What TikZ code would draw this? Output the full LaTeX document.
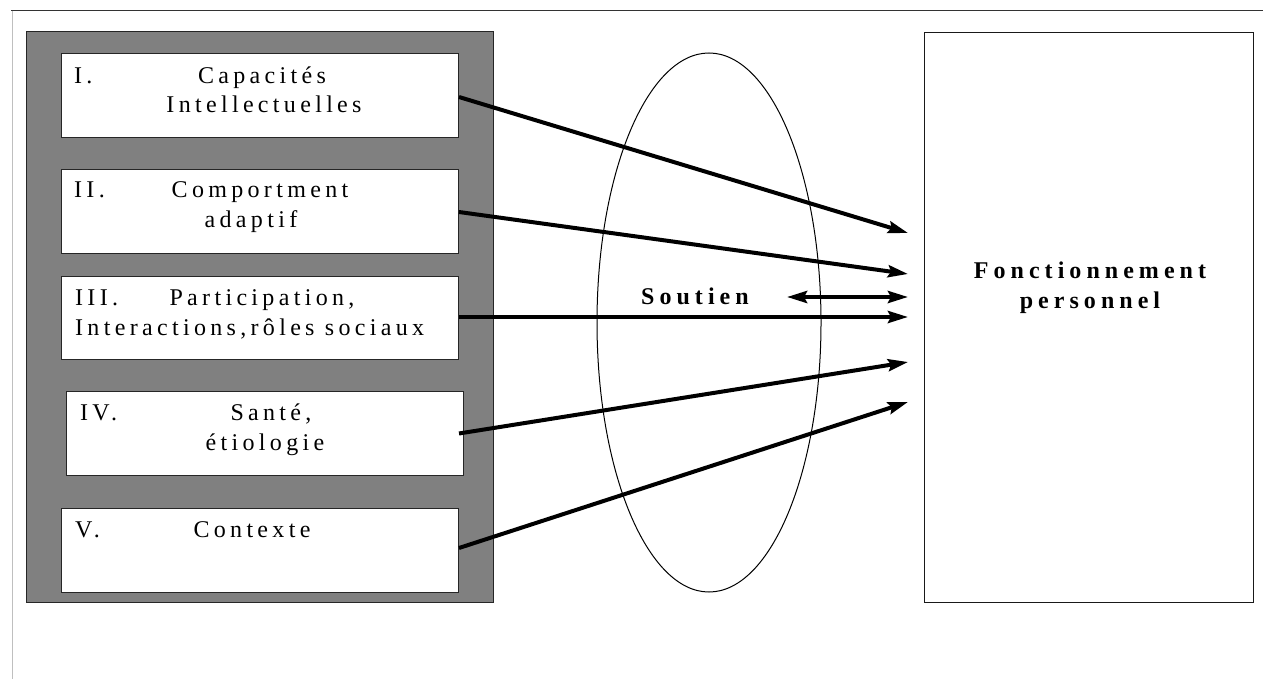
\documentclass[tikz,border=0pt]{standalone}
\usepackage{fontspec}
\setmainfont{Liberation Serif}
\newfontfamily\spfont[LetterSpace=18]{Liberation Serif}
\newfontfamily\spbfont[LetterSpace=21]{Liberation Serif Bold}
\usetikzlibrary{arrows.meta,shapes.geometric}
\tikzset{
  panel/.style={draw=black!85, fill=black!50, line width=1pt},
  itembox/.style={draw=black!85, fill=white, line width=1pt},
  txt/.style={inner sep=0pt, font=\spfont\fontsize{24}{28}\selectfont},
  btxt/.style={inner sep=0pt, font=\spbfont\fontsize{24}{28}\selectfont},
  arr/.style={line width=4pt, -{Stealth[length=20pt,width=12pt,inset=3pt]}},
  darr/.style={line width=4pt, {Stealth[length=20pt,width=12pt,inset=3pt]}-{Stealth[length=20pt,width=12pt,inset=3pt]}},
}
\begin{document}
\begin{tikzpicture}[x=1pt,y=-1pt]
\useasboundingbox (0,0) rectangle (1263,679);
% page frame
\draw[black!80, line width=1pt] (11,11) -- (1263,11);
\draw[black!25, line width=1pt] (12,11) -- (12,679);
% gray panel
\path[panel] (26,32) rectangle (493,602);
\node[itembox, minimum width=397pt, minimum height=84pt, anchor=north west] (b1) at (61,53) {};
\node[itembox, minimum width=397pt, minimum height=84pt, anchor=north west] (b2) at (61,169) {};
\node[itembox, minimum width=397pt, minimum height=83pt, anchor=north west] (b3) at (61,276) {};
\node[itembox, minimum width=397pt, minimum height=84pt, anchor=north west] (b4) at (66,391) {};
\node[itembox, minimum width=397pt, minimum height=84pt, anchor=north west] (b5) at (61,508) {};
% texts
\node[txt, anchor=base west] (t1a) at (74,84) {I.};
\node[txt, anchor=base] (t1b) at (262,84) {Capacités};
\node[txt, anchor=base] (t1c) at (264,113) {Intellectuelles};
\node[txt, anchor=base west] (t2a) at (74,198) {II.};
\node[txt, anchor=base] (t2b) at (260,198) {Comportment};
\node[txt, anchor=base] (t2c) at (251,227) {adaptif};
\node[txt, anchor=base west] (t3a) at (75,305) {III.};
\node[txt, anchor=base] (t3b) at (262,305) {Participation,};
\node[txt, anchor=base west] (t3c) at (75,335) {Interactions,rôles sociaux};
\node[txt, anchor=base west] (t4a) at (80,420) {IV.};
\node[txt, anchor=base] (t4b) at (271,420) {Santé,};
\node[txt, anchor=base] (t4c) at (265,450) {étiologie};
\node[txt, anchor=base west] (t5a) at (75,537) {V.};
\node[txt, anchor=base] (t5b) at (252,537) {Contexte};
% ellipse
\node[draw, ellipse, line width=1pt, minimum width=224pt, minimum height=539pt, inner sep=0pt] (ell) at (709,322.5) {};
% right box
\node[draw=black!90, line width=1.3pt, minimum width=329pt, minimum height=570pt, anchor=north west] (fp) at (924,32) {};
\node[btxt, anchor=base] (fpa) at (1090,278) {Fonctionnement};
\node[btxt, anchor=base] (fpb) at (1090,308) {personnel};
\node[btxt, anchor=base] (sout) at (695,304) {Soutien};
% arrow targets
\coordinate (e1) at (908,233);
\coordinate (e2) at (908,274);
\coordinate (e3) at (908,297);
\coordinate (e4) at (908,317);
\coordinate (e5) at (908,362);
\coordinate (e6) at (908,402);
\coordinate (s3) at (787,297);
\draw[arr] (b1.east |- 0,97) -- (e1);
\draw[arr] (b2.east |- 0,212) -- (e2);
\draw[darr] (s3) -- (e3);
\draw[arr] (b3.east |- 0,317) -- (e4);
\draw[arr] ([xshift=-5pt]b4.east) -- (e5);
\draw[arr] (b5.east |- 0,548) -- (e6);
\end{tikzpicture}
\end{document}
